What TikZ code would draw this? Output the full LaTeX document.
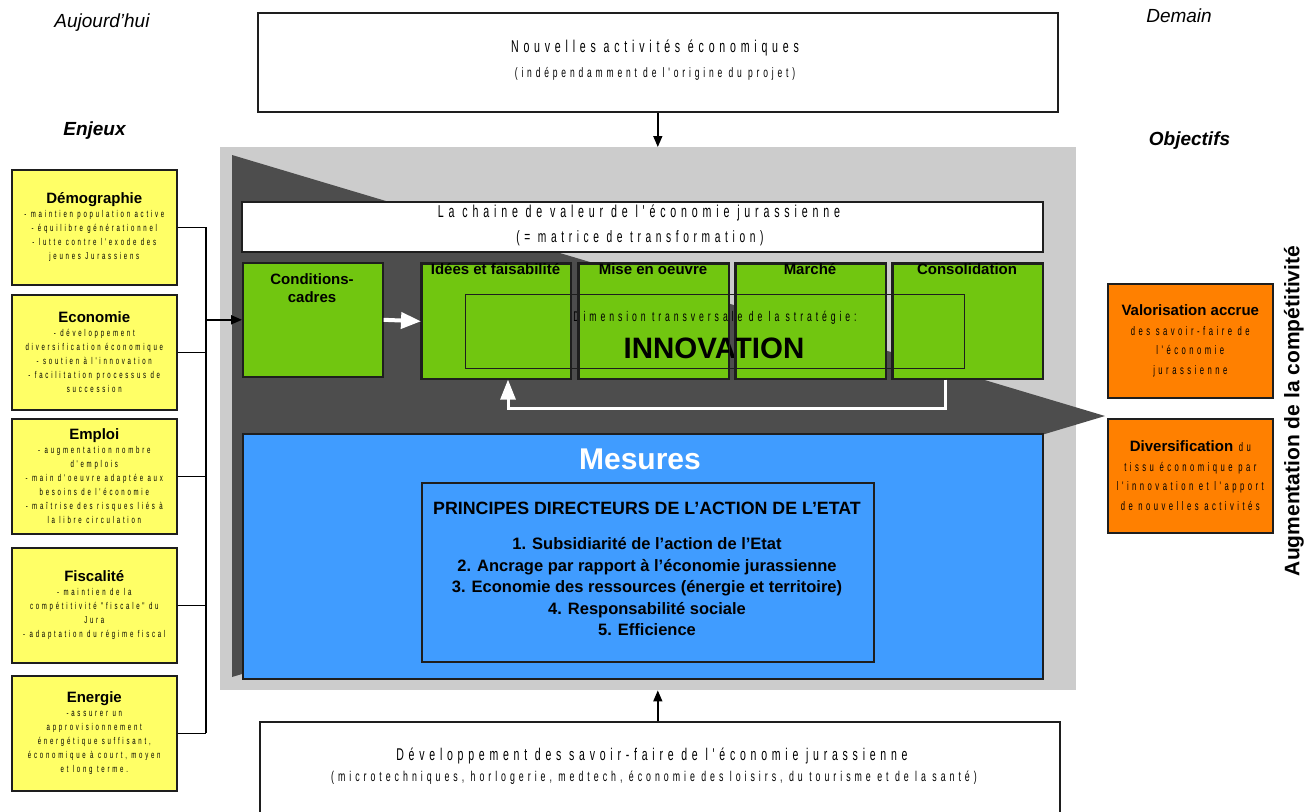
\documentclass[tikz,border=0pt]{standalone}
\usepackage{fontspec}
\setmainfont{Liberation Sans}
\newfontfamily\nrw{Liberation Sans}[FakeStretch=0.62, LetterSpace=28]
\usetikzlibrary{arrows.meta}
\definecolor{graybg}{RGB}{204,204,204}
\definecolor{darkc}{RGB}{77,77,77}
\definecolor{greenc}{RGB}{113,198,16}
\definecolor{bluec}{RGB}{64,156,255}
\definecolor{yellowc}{RGB}{255,255,102}
\definecolor{orangec}{RGB}{255,128,0}
\definecolor{edgec}{RGB}{30,30,30}
\newcommand{\fs}[2]{\fontsize{#1}{#2}\selectfont}
\tikzset{
  boxline/.style={draw=edgec, line width=1.6pt},
  whitebox/.style={boxline, fill=white, inner sep=0pt, anchor=north west},
  ybox/.style={boxline, fill=yellowc, inner sep=0pt, anchor=north west, minimum width=165, minimum height=115, align=center, font=\nrw\fs{9.8}{14}},
  obox/.style={boxline, fill=orangec, inner sep=0pt, anchor=north west, minimum width=165, minimum height=114, align=center, font=\nrw\fs{12.4}{19.5}},
  gbox/.style={boxline, fill=greenc, inner sep=0pt, anchor=north west},
  gtitle/.style={anchor=north, inner sep=0pt, font=\bfseries\fs{15}{18}, align=center},
  conn/.style={draw=black, line width=1.3pt},
  blackarrow/.style={draw=black, line width=1.4pt, -{Triangle[length=11pt,width=9pt]}},
  whitearrow/.style={draw=white, -{Triangle[length=20pt,width=16pt]}},
  sidelabel/.style={inner sep=0pt, font=\itshape\fs{19}{21}},
}
\begin{document}
\begin{tikzpicture}[x=1pt,y=-1pt]
\useasboundingbox (0,0) rectangle (1305,811);
% side labels
\node[sidelabel] (auj) at (102,23) {Aujourd'hui};
\node[sidelabel] (dem) at (1179,16) {Demain};
\node[sidelabel, font=\bfseries\itshape\fs{19}{21}] (enj) at (94.5,131) {Enjeux};
\node[sidelabel, font=\bfseries\itshape\fs{19}{21}] (obj) at (1189.5,141) {Objectifs};
\node[inner sep=0pt, rotate=90, font=\bfseries\fs{21}{23}] (augm) at (1294,411) {Augmentation de la compétitivité};

% top box
\node[whitebox, minimum width=800, minimum height=99] (top) at (257,12) {};
\node[inner sep=0pt, font=\nrw\fs{17.1}{18}] (topt1) at (655,48) {Nouvelles activités économiques};
\node[inner sep=0pt, font=\nrw\fs{13.7}{15}] (topt2) at (655,74) {(indépendamment de l'origine du projet)};

% gray zone
\node[fill=graybg, inner sep=0pt, anchor=north west, minimum width=856, minimum height=543] (zone) at (220,147) {};
\fill[darkc] (232,155) -- (1105,416) -- (232,677) -- cycle;

% bottom box
\node[whitebox, minimum width=800, minimum height=110] (bot) at (259,721) {};
\node[inner sep=0pt, font=\nrw\fs{17}{18}] (bott1) at (652,756) {Développement des savoir-faire de l'économie jurassienne};
\node[inner sep=0pt, font=\nrw\fs{14.2}{15}] (bott2) at (654,778) {(microtechniques, horlogerie, medtech, économie des loisirs, du tourisme et de la santé)};

\draw[blackarrow] (top.south) -- (top.south |- zone.north);
\draw[blackarrow] (top.south |- bot.north) -- (top.south |- zone.south);

% value chain header
\node[whitebox, minimum width=801, minimum height=50] (chain) at (241,201) {};
\node[inner sep=0pt, font=\nrw\fs{17.2}{18}] (chaint1) at (639,213) {La chaine de valeur de l'économie jurassienne};
\node[inner sep=0pt, font=\nrw\fs{16.5}{18}] (chaint2) at (640,238) {(= matrice de transformation)};

% green boxes
\node[gbox, minimum width=140, minimum height=114] (cc) at (242,262) {};
\node[gbox, minimum width=149, minimum height=115] (idees) at (421,263) {};
\node[gbox, minimum width=150, minimum height=115] (mise) at (578,263) {};
\node[gbox, minimum width=150, minimum height=115] (marche) at (735,263) {};
\node[gbox, minimum width=150, minimum height=115] (cons) at (892,263) {};

% innovation dimension
\node[draw=edgec, line width=1.4pt, inner sep=0pt, anchor=north west, minimum width=499, minimum height=74] (innov) at (465,294) {};
\node[inner sep=0pt, font=\nrw\fs{14}{15}] (dimt) at (715,318) {Dimension transversale de la stratégie:};
\node[inner sep=0pt, font=\bfseries\fs{29.5}{32}] (innovt) at (714,348) {INNOVATION};

% redraw green borders on top
\foreach \b in {idees,mise,marche,cons}{
  \draw[edgec, line width=1.6pt] (\b.north west) rectangle (\b.south east);
}

\node[gtitle] (cct) at (312,273) {Conditions-\\cadres};
\node[gtitle] (ideest) at (495.5,263) {Idées et faisabilité};
\node[gtitle] (miset) at (653,263) {Mise en oeuvre};
\node[gtitle] (marchet) at (810,263) {Marché};
\node[gtitle] (const) at (967,263) {Consolidation};

% white arrows
\draw[whitearrow, line width=4pt] (cc.east) -- (idees.west);
\coordinate (fb1) at (945,408);
\coordinate (fb2) at (508,408);
\draw[draw=white, line width=3pt, -{Triangle[length=20pt,width=15pt]}] (cons.south -| fb1) -- (fb1) -- (fb2) -- (fb2 |- idees.south);

% Mesures
\node[boxline, fill=bluec, inner sep=0pt, anchor=north west, minimum width=800, minimum height=245] (mes) at (242,433) {};
\node[inner sep=0pt, text=white, font=\bfseries\fs{30}{32}] (mest) at (640,459) {Mesures};
\node[boxline, fill=bluec, inner sep=0pt, anchor=north west, minimum width=452, minimum height=179] (princ) at (421,482) {};
\node[inner sep=0pt, font=\bfseries\fs{17.8}{20}] (princt) at (647,508) {PRINCIPES DIRECTEURS DE L'ACTION DE L'ETAT};
\node[inner sep=0pt, align=center, font=\bfseries\fs{16.5}{21.5}] (list) at (647,587)
  {1. Subsidiarité de l'action de l'Etat\\
   2. Ancrage par rapport à l'économie jurassienne\\
   3. Economie des ressources (énergie et territoire)\\
   4. Responsabilité sociale\\
   5. Efficience};

% Enjeux boxes
\node[ybox] (demo) at (11,169) {{\normalfont\bfseries\fs{15}{14}Démographie}\\- maintien population active\\- équilibre générationnel\\- lutte contre l'exode des\\jeunes Jurassiens};
\node[ybox] (econ) at (11,294) {{\normalfont\bfseries\fs{15}{14}Economie}\\- développement\\diversification économique\\- soutien à l'innovation\\- facilitation processus de\\succession};
\node[ybox] (empl) at (11,418) {{\normalfont\bfseries\fs{15}{14}Emploi}\\- augmentation nombre\\d'emplois\\- main d'oeuvre adaptée aux\\besoins de l'économie\\- maîtrise des risques liés à\\la libre circulation};
\node[ybox] (fisc) at (11,547) {{\normalfont\bfseries\fs{15}{14}Fiscalité}\\- maintien de la\\compétitivité "fiscale" du\\Jura\\- adaptation du régime fiscal};
\node[ybox] (ener) at (11,675) {{\normalfont\bfseries\fs{15}{14}Energie}\\-assurer un\\approvisionnement\\énergétique suffisant,\\économique à court, moyen\\et long terme.};

% connectors from Enjeux
\coordinate (tk) at (206,0);
\foreach \b in {demo,econ,empl,fisc,ener}{
  \draw[conn] (\b.east) -- (\b.east -| tk);
}
\draw[conn] (demo.east -| tk) -- (ener.east -| tk);
\draw[blackarrow, line width=2pt] (cc.west -| tk) -- (cc.west);

% Objectifs boxes
\node[obox] (valo) at (1107,283) {{\normalfont\bfseries\fs{15}{19.5}Valorisation accrue}\\des savoir-faire de\\l'économie\\jurassienne};
\node[obox] (divers) at (1107,418) {{\normalfont\bfseries\fs{15}{19.5}Diversification} du\\tissu économique par\\l'innovation et l'apport\\de nouvelles activités};
\end{tikzpicture}
\end{document}
